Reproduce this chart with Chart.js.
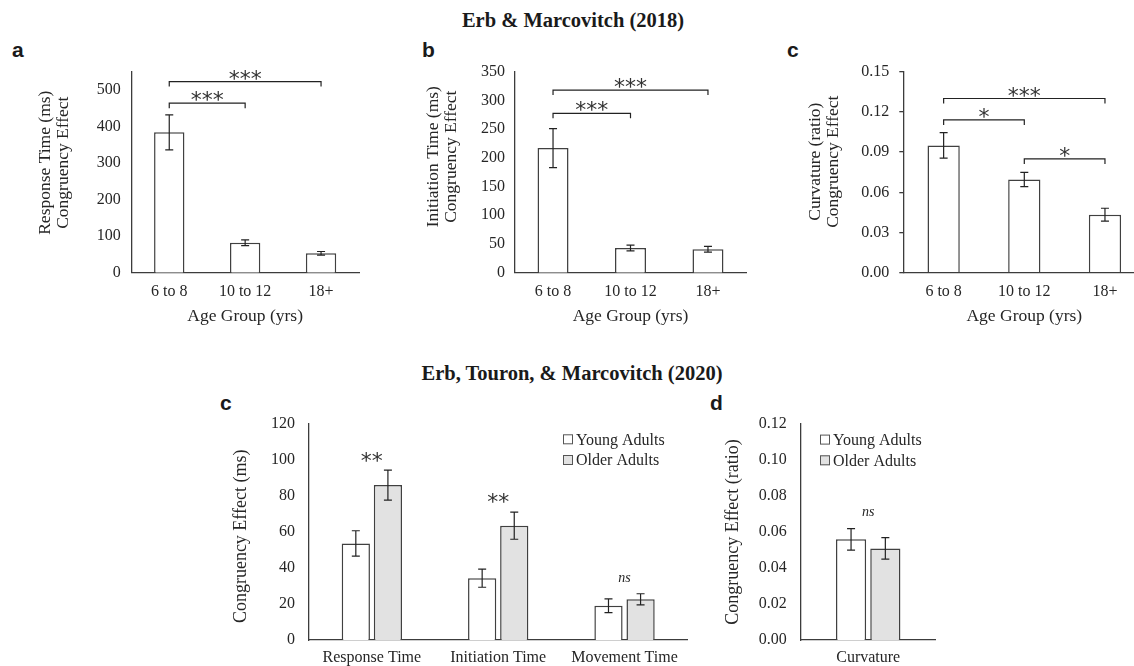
<!DOCTYPE html>
<html>
<head>
<meta charset="utf-8">
<script src="https://cdn.jsdelivr.net/npm/chart.js@4/dist/chart.umd.min.js"></script>
<style>
  html, body { margin: 0; padding: 0; background: #fff; overflow: hidden; }
  body { width: 1134px; height: 666px; position: relative; }
  .box { position: absolute; }
  .ttl { position: absolute; width: 400px; text-align: center; font: bold 20.5px 'Liberation Serif'; line-height: 24px; color: #1a1a1a; }
  .lbl { position: absolute; font: bold 21px 'Liberation Sans'; line-height: 21px; color: #1a1a1a; }
</style>
</head>
<body>
<div class="ttl" style="left:373px;top:8px">Erb &amp; Marcovitch (2018)</div>
<div class="ttl" style="left:372px;top:361px">Erb, Touron, &amp; Marcovitch (2020)</div>
<div class="lbl" style="left:12px;top:39px">a</div>
<div class="lbl" style="left:422px;top:39px">b</div>
<div class="lbl" style="left:787px;top:39px">c</div>
<div class="lbl" style="left:220px;top:392px">c</div>
<div class="lbl" style="left:710px;top:392px">d</div>

<div class="box" style="left:0px;top:50px"><canvas id="chA" width="380" height="280"></canvas></div>
<div class="box" style="left:380px;top:50px"><canvas id="chB" width="380" height="280"></canvas></div>
<div class="box" style="left:760px;top:50px"><canvas id="chC" width="400" height="280"></canvas></div>
<div class="box" style="left:200px;top:400px"><canvas id="chD" width="500" height="266"></canvas></div>
<div class="box" style="left:700px;top:400px"><canvas id="chE" width="260" height="266"></canvas></div>

<script>
// Erb & Marcovitch (2018)
var ageGroups = ['6 to 8', '10 to 12', '18+'];
var rtMeans = [384, 82, 53];
var rtErrors = [48, 8, 5];
var rtTicks = [0, 100, 200, 300, 400, 500];
var itMeans = [217, 43, 41];
var itErrors = [34, 5, 5];
var itTicks = [0, 50, 100, 150, 200, 250, 300, 350];
var curvMeans = [0.095, 0.0695, 0.0433];
var curvErrors = [0.0095, 0.0053, 0.0048];
var curvTicks = [0, 0.03, 0.06, 0.09, 0.12, 0.15];

// brackets: from group, to group, height, stars
var rtBrackets = [[0, 1, 464, '***'], [0, 2, 523, '***']];
var itBrackets = [[0, 1, 277.6, '***'], [0, 2, 318, '***']];
var curvBrackets = [[0, 2, 0.130, '***'], [0, 1, 0.114, '*'], [1, 2, 0.0849, '*']];

// Erb, Touron, & Marcovitch (2020)
var measures = ['Response Time', 'Initiation Time', 'Movement Time'];
var youngMs = [53.5, 34.2, 19];
var youngMsErrors = [7, 5, 3.8];
var olderMs = [85.8, 63.3, 22.5];
var olderMsErrors = [8.3, 7.5, 3.1];
var msTicks = [0, 20, 40, 60, 80, 100, 120];
var msSig = ['**', '**', 'ns'];
var msSigAt = [101.5, 78.5, 34];

var curvCategory = ['Curvature'];
var youngCurv = [0.0558];
var youngCurvErrors = [0.006];
var olderCurv = [0.0508];
var olderCurvErrors = [0.006];
var ratioTicks = [0, 0.02, 0.04, 0.06, 0.08, 0.10, 0.12];
var ratioSig = ['ns'];
var ratioSigAt = [0.0705];

var serif = 'Liberation Serif';
var textColor = '#262626';
var axisColor = '#3c3c3c';
var barLine = '#404040';

function drawMark(ctx, text, x, y) {
    if (text === 'ns') {
        ctx.font = 'italic 14px "Liberation Serif"';
        ctx.fillStyle = textColor;
    } else {
        ctx.font = '22px "DejaVu Sans"';
        ctx.fillStyle = '#333';
    }
    var m = ctx.measureText(text);
    ctx.textAlign = 'center';
    ctx.textBaseline = 'alphabetic';
    ctx.fillText(text, x, y + (m.actualBoundingBoxAscent - m.actualBoundingBoxDescent) / 2);
}

// error bars, significance brackets and stars
var annotations = {
    id: 'annotations',
    afterDatasetsDraw: function (chart, args, o) {
        var ctx = chart.ctx;
        var xs = chart.scales.x, ys = chart.scales.y;
        ctx.save();
        ctx.strokeStyle = '#222';
        ctx.lineWidth = 1.2;
        chart.data.datasets.forEach(function (ds, di) {
            chart.getDatasetMeta(di).data.forEach(function (bar, i) {
                var top = ys.getPixelForValue(ds.data[i] + ds.errors[i]);
                var bot = ys.getPixelForValue(ds.data[i] - ds.errors[i]);
                ctx.beginPath();
                ctx.moveTo(bar.x, top); ctx.lineTo(bar.x, bot);
                ctx.moveTo(bar.x - 4, top); ctx.lineTo(bar.x + 4, top);
                ctx.moveTo(bar.x - 4, bot); ctx.lineTo(bar.x + 4, bot);
                ctx.stroke();
            });
        });
        var brackets = chart.config.options.brackets || [];
        brackets.forEach(function (b) {
            var x1 = xs.getPixelForValue(b[0]);
            var x2 = xs.getPixelForValue(b[1]);
            var y = ys.getPixelForValue(b[2]);
            ctx.beginPath();
            ctx.moveTo(x1, y + 5); ctx.lineTo(x1, y); ctx.lineTo(x2, y); ctx.lineTo(x2, y + 5);
            ctx.stroke();
            drawMark(ctx, b[3], (x1 + x2) / 2, y - 7);
        });
        var sig = chart.config.options.sig;
        if (sig) {
            sig.text.forEach(function (t, i) {
                drawMark(ctx, t, xs.getPixelForValue(i), ys.getPixelForValue(sig.at[i]));
            });
        }
        ctx.restore();
    }
};

// rotated y titles
var yTitle = {
    id: 'yTitle',
    afterDraw: function (chart, args, o) {
        if (!o || !o.lines) return;
        var ctx = chart.ctx, a = chart.chartArea;
        ctx.save();
        ctx.fillStyle = textColor;
        ctx.font = o.size + 'px "Liberation Serif"';
        ctx.textAlign = 'center';
        ctx.textBaseline = 'middle';
        ctx.translate(a.left + o.x, a.top + o.mid);
        ctx.rotate(-Math.PI / 2);
        o.lines.forEach(function (line, i) {
            ctx.fillText(line, 0, i * 18.3);
        });
        ctx.restore();
    }
};

// small square legend
var boxLegend = {
    id: 'boxLegend',
    afterDraw: function (chart, args, o) {
        if (!o || o.x === undefined) return;
        var ctx = chart.ctx, a = chart.chartArea;
        ctx.save();
        ctx.font = '16px "Liberation Serif"';
        ctx.textBaseline = 'middle';
        ctx.textAlign = 'left';
        chart.data.datasets.forEach(function (ds, i) {
            var x = a.left + o.x, y = a.top + o.y + i * 20.7;
            ctx.fillStyle = ds.backgroundColor;
            ctx.fillRect(x, y - 5, 10, 10);
            ctx.strokeStyle = '#555';
            ctx.lineWidth = 1;
            ctx.strokeRect(x + 0.5, y - 4.5, 9, 9);
            ctx.fillStyle = textColor;
            ctx.fillText(ds.label, x + 13, y + 1);
        });
        ctx.restore();
    }
};

Chart.register(annotations, yTitle, boxLegend);

function barChart(id, labels, datasets, o) {
    return new Chart(document.getElementById(id), {
        type: 'bar',
        data: { labels: labels, datasets: datasets },
        options: {
            responsive: false,
            animation: false,
            brackets: o.brackets,
            sig: o.sig,
            layout: { padding: { top: o.padTop, right: o.padRight, left: 0, bottom: 0 } },
            plugins: {
                legend: { display: false },
                tooltip: { enabled: false },
                yTitle: o.yTitle,
                boxLegend: o.legend || {}
            },
            scales: {
                x: {
                    grid: { display: false, drawTicks: false },
                    border: { display: true, color: axisColor, width: 1.3 },
                    ticks: { color: textColor, font: { family: serif, size: 16 }, padding: o.xPad },
                    title: o.xTitle ? {
                        display: true, text: o.xTitle, color: textColor,
                        font: { family: serif, size: 17.5 }, padding: { top: 0, bottom: 2.8 }
                    } : { display: false },
                    afterFit: function (s) { s.height = o.xHeight; }
                },
                y: {
                    min: 0,
                    max: o.max,
                    grid: o.tickMarks ? {
                        display: true, drawOnChartArea: false, drawTicks: true,
                        tickLength: 4, color: axisColor, lineWidth: 1.3
                    } : { display: false, drawTicks: false },
                    border: { display: true, color: axisColor, width: 1.3 },
                    ticks: {
                        color: textColor, font: { family: serif, size: 16 }, padding: o.yPad,
                        callback: function (v) { return o.decimals ? Number(v).toFixed(o.decimals) : v; }
                    },
                    afterBuildTicks: function (s) { s.ticks = o.ticks.map(function (v) { return { value: v }; }); },
                    afterFit: function (s) { s.width = o.yWidth; }
                }
            }
        }
    });
}

function single(values, errors) {
    return [{
        label: 'Congruency Effect', data: values, errors: errors,
        backgroundColor: '#ffffff', borderColor: barLine, borderWidth: 1.5,
        barPercentage: 0.4, categoryPercentage: 1
    }];
}

function pair(young, youngErr, older, olderErr) {
    return [
        { label: 'Young Adults', data: young, errors: youngErr, backgroundColor: '#ffffff',
          borderColor: barLine, borderWidth: 1.5, barPercentage: 0.88, categoryPercentage: 0.508 },
        { label: 'Older Adults', data: older, errors: olderErr, backgroundColor: '#e2e2e2',
          borderColor: barLine, borderWidth: 1.5, barPercentage: 0.88, categoryPercentage: 0.508 }
    ];
}

barChart('chA', ageGroups, single(rtMeans, rtErrors), {
    max: 550, ticks: rtTicks, brackets: rtBrackets,
    padTop: 21.7, padRight: 21, yWidth: 131.3, xHeight: 57.3, xPad: 9.4, yPad: 10.6,
    xTitle: 'Age Group (yrs)',
    yTitle: { lines: ['Response Time (ms)', 'Congruency Effect'], x: -86.3, mid: 91, size: 17.5 }
});

barChart('chB', ageGroups, single(itMeans, itErrors), {
    max: 350, ticks: itTicks, brackets: itBrackets,
    padTop: 21.7, padRight: 13.3, yWidth: 134.3, xHeight: 57.3, xPad: 9.4, yPad: 9.3,
    xTitle: 'Age Group (yrs)',
    yTitle: { lines: ['Initiation Time (ms)', 'Congruency Effect'], x: -81, mid: 85, size: 17.5 }
});

barChart('chC', ageGroups, single(curvMeans, curvErrors), {
    max: 0.15, ticks: curvTicks, brackets: curvBrackets, decimals: 2, tickMarks: true,
    padTop: 21.7, padRight: 14.7, yWidth: 143.3, xHeight: 57.3, xPad: 9.4, yPad: 10,
    xTitle: 'Age Group (yrs)',
    yTitle: { lines: ['Curvature (ratio)', 'Congruency Effect'], x: -88.3, mid: 90, size: 17.5 }
});

barChart('chD', measures, pair(youngMs, youngMsErrors, olderMs, olderMsErrors), {
    max: 120, ticks: msTicks, sig: { text: msSig, at: msSigAt },
    padTop: 23.3, padRight: 12.3, yWidth: 108.7, xHeight: 26, xPad: 8.4, yPad: 13.7,
    yTitle: { lines: ['Congruency Effect (ms)'], x: -67, mid: 113, size: 18 },
    legend: { x: 254.3, y: 16 }
});

barChart('chE', curvCategory, pair(youngCurv, youngCurvErrors, olderCurv, olderCurvErrors), {
    max: 0.12, ticks: ratioTicks, sig: { text: ratioSig, at: ratioSigAt }, decimals: 2,
    padTop: 23.3, padRight: 24.3, yWidth: 100.7, xHeight: 26, xPad: 8.4, yPad: 14,
    yTitle: { lines: ['Congruency Effect (ratio)'], x: -67.7, mid: 108.4, size: 18 },
    legend: { x: 19.3, y: 16 }
});
</script>
</body>
</html>
